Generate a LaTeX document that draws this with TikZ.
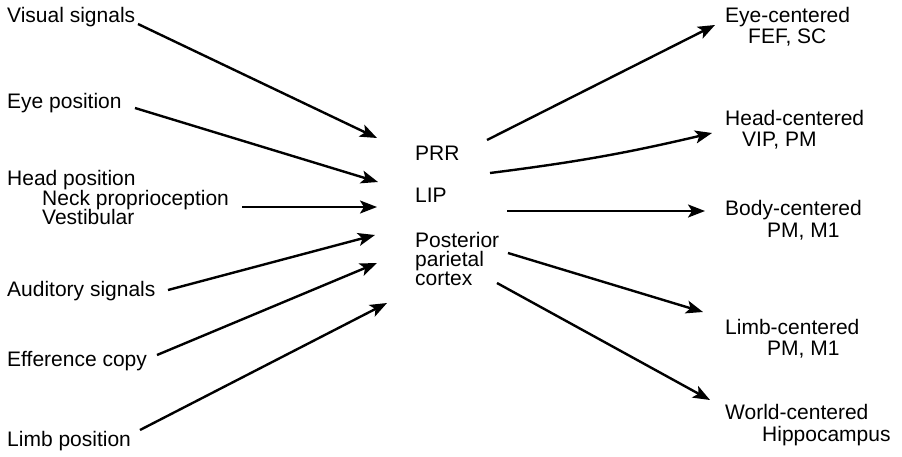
\documentclass[tikz,border=0pt]{standalone}
\usepackage{fontspec}
\setmainfont{Liberation Sans}
\usetikzlibrary{arrows.meta}
\begin{document}
\begin{tikzpicture}[x=1pt,y=-1pt,
  lbl/.style={inner sep=0pt,anchor=base west,font=\fontsize{21}{19}\selectfont},
  arr/.style={line width=2.4pt,-{Stealth[length=17pt,width=13pt,inset=4pt]}}]
\useasboundingbox (0,0) rectangle (902,456);
% left inputs
\node[lbl] (vis) at (7,22) {Visual signals};
\node[lbl] (eye) at (7,108) {Eye position};
\node[lbl] (head) at (7,185) {Head position};
\node[lbl] (neck) at (42,205) {Neck proprioception};
\node[lbl] (vest) at (42,224) {Vestibular};
\node[lbl] (aud) at (7,296) {Auditory signals};
\node[lbl] (eff) at (7,366) {Efference copy};
\node[lbl] (limb) at (7,446) {Limb position};
% centre
\node[lbl] (prr) at (415,160) {PRR};
\node[lbl] (lip) at (415,202) {LIP};
\node[lbl] (ppc1) at (415,247) {Posterior};
\node[lbl] (ppc2) at (415,266) {parietal};
\node[lbl] (ppc3) at (415,285) {cortex};
% right outputs
\node[lbl] (eyec) at (725,22) {Eye-centered};
\node[lbl] (eyec2) at (748,43) {FEF, SC};
\node[lbl] (headc) at (725,125) {Head-centered};
\node[lbl] (headc2) at (742,146) {VIP, PM};
\node[lbl] (bodyc) at (725,215) {Body-centered};
\node[lbl] (bodyc2) at (767,237) {PM, M1};
\node[lbl] (limbc) at (725,334) {Limb-centered};
\node[lbl] (limbc2) at (767,355) {PM, M1};
\node[lbl] (worldc) at (725,419) {World-centered};
\node[lbl] (worldc2) at (762,441) {Hippocampus};
% arrow endpoints
\coordinate (s1) at (138,24);  \coordinate (t1) at (377,138);
\coordinate (s2) at (135,108); \coordinate (t2) at (378,182);
\coordinate (s3) at (242,207); \coordinate (t3) at (377,207);
\coordinate (s4) at (168,290); \coordinate (t4) at (375,235);
\coordinate (s5) at (157,355); \coordinate (t5) at (377,263);
\coordinate (s6) at (140,430); \coordinate (t6) at (387,303);
\coordinate (o1) at (487,140); \coordinate (e1) at (715,25);
\coordinate (o2) at (490,173); \coordinate (e2) at (712,133);
\coordinate (o3) at (507,211); \coordinate (e3) at (705,211);
\coordinate (o4) at (508,253); \coordinate (e4) at (703,312);
\coordinate (o5) at (497,283); \coordinate (e5) at (710,400);
\draw[arr] (s1) -- (t1);
\draw[arr] (s2) -- (t2);
\draw[arr] (s3) -- (t3);
\draw[arr] (s4) -- (t4);
\draw[arr] (s5) -- (t5);
\draw[arr] (s6) -- (t6);
\draw[arr] (o1) -- (e1);
\draw[arr] (o2) to[bend right=3] (e2);
\draw[arr] (o3) -- (e3);
\draw[arr] (o4) -- (e4);
\draw[arr] (o5) -- (e5);
\end{tikzpicture}
\end{document}
